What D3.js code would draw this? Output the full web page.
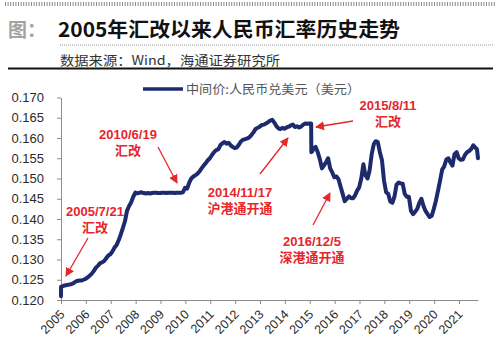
<!DOCTYPE html>
<html>
<head>
<meta charset="utf-8">
<script src="https://cdn.jsdelivr.net/npm/d3@7"></script>
<style>
  html, body { margin: 0; padding: 0; background: #fff; }
  svg { display: block; }
</style>
</head>
<body>
<svg id="chart" width="500" height="345"></svg>
<script>
// CNY/USD central parity expressed in US dollars per yuan, monthly readings
const dates = [
  "2005-07-20","2005-07-21","2005-08-15","2005-09-15","2005-10-15","2005-11-15","2005-12-15",
  "2006-01-15","2006-02-15","2006-03-15","2006-04-15","2006-05-15","2006-06-15","2006-07-15","2006-08-15","2006-09-15","2006-10-15","2006-11-15","2006-12-15",
  "2007-01-15","2007-02-15","2007-03-15","2007-04-15","2007-05-15","2007-06-15","2007-07-15","2007-08-15","2007-09-15","2007-10-15","2007-11-15","2007-12-15",
  "2008-01-15","2008-02-15","2008-03-15","2008-04-15","2008-05-15","2008-06-15","2008-07-15","2008-08-15","2008-09-15","2008-10-15","2008-11-15","2008-12-15",
  "2009-01-15","2009-02-15","2009-03-15","2009-04-15","2009-05-15","2009-06-15","2009-07-15","2009-08-15","2009-09-15","2009-10-15","2009-11-15","2009-12-15",
  "2010-01-15","2010-02-15","2010-03-15","2010-04-15","2010-05-15","2010-06-15","2010-07-15","2010-08-15","2010-09-15","2010-10-15","2010-11-15","2010-12-15",
  "2011-01-15","2011-02-15","2011-03-15","2011-04-15","2011-05-15","2011-06-15","2011-07-15","2011-08-15","2011-09-15","2011-10-15","2011-11-15","2011-12-15",
  "2012-01-15","2012-02-15","2012-03-15","2012-04-15","2012-05-15","2012-06-15","2012-07-15","2012-08-15","2012-09-15","2012-10-15","2012-11-15","2012-12-15",
  "2013-01-15","2013-02-15","2013-03-15","2013-04-15","2013-05-15","2013-06-15","2013-07-15","2013-08-15","2013-09-15","2013-10-15","2013-11-15","2013-12-15",
  "2014-01-15","2014-02-15","2014-03-15","2014-04-15","2014-05-15","2014-06-15","2014-07-15","2014-08-15","2014-09-15","2014-10-15","2014-11-15","2014-12-15",
  "2015-01-15","2015-02-15","2015-03-15","2015-04-15","2015-05-15","2015-06-15","2015-07-15","2015-08-10","2015-08-13","2015-08-25","2015-09-15","2015-10-15","2015-11-15","2015-12-15",
  "2016-01-15","2016-02-15","2016-03-15","2016-04-15","2016-05-15","2016-06-15","2016-07-15","2016-08-15","2016-09-15","2016-10-15","2016-11-15","2016-12-15",
  "2017-01-15","2017-02-15","2017-03-15","2017-04-15","2017-05-15","2017-06-15","2017-07-15","2017-08-15","2017-09-15","2017-10-15","2017-11-15","2017-12-15",
  "2018-01-15","2018-02-15","2018-03-15","2018-04-15","2018-05-15","2018-06-15","2018-07-15","2018-08-15","2018-09-15","2018-10-15","2018-11-15","2018-12-15",
  "2019-01-15","2019-02-15","2019-03-15","2019-04-15","2019-05-15","2019-06-15","2019-07-15","2019-08-15","2019-09-15","2019-10-15","2019-11-15","2019-12-15",
  "2020-01-15","2020-02-15","2020-03-15","2020-04-15","2020-05-15","2020-06-15","2020-07-15","2020-08-15","2020-09-15","2020-10-15","2020-11-15","2020-12-15",
  "2021-01-15","2021-02-15","2021-03-15","2021-04-15","2021-05-15","2021-06-15","2021-07-15","2021-08-15","2021-09-15","2021-10-15","2021-11-15","2021-12-15",
  "2022-01-15","2022-02-15","2022-03-15","2022-04-10","2022-04-25"
];
const rates = [
  0.1209,0.1233,0.1234,0.1236,0.1237,0.1238,0.1239,
  0.1241,0.1245,0.1247,0.1248,0.1248,0.1250,0.1252,0.1256,0.1260,0.1265,0.1272,0.1280,
  0.1285,0.1291,0.1293,0.1296,0.1303,0.1310,0.1313,0.1320,0.1330,0.1336,0.1348,0.1362,
  0.1378,0.1395,0.1420,0.1432,0.1441,0.1455,0.1465,0.1463,0.1465,0.1466,0.1464,0.1463,
  0.1464,0.1463,0.1464,0.1465,0.1465,0.1464,0.1464,0.1465,0.1465,0.1464,0.1465,0.1465,
  0.1465,0.1464,0.1465,0.1465,0.1465,0.1466,0.1477,0.1475,0.1490,0.1500,0.1505,0.1508,
  0.1512,0.1518,0.1525,0.1532,0.1538,0.1545,0.1550,0.1558,0.1565,0.1570,0.1572,0.1582,
  0.1587,0.1590,0.1586,0.1588,0.1582,0.1578,0.1575,0.1577,0.1584,0.1592,0.1596,0.1597,
  0.1599,0.1602,0.1607,0.1614,0.1622,0.1625,0.1628,0.1632,0.1633,0.1636,0.1639,0.1643,
  0.1645,0.1638,0.1630,0.1624,0.1622,0.1625,0.1623,0.1626,0.1628,0.1631,0.1633,0.1627,
  0.1629,0.1626,0.1628,0.1633,0.1636,0.1635,0.1636,0.1636,0.1565,0.1567,0.1575,0.1578,0.1565,0.1548,
  0.1525,0.1532,0.1540,0.1550,0.1525,0.1515,0.1503,0.1505,0.1498,0.1480,0.1462,0.1444,
  0.1450,0.1456,0.1452,0.1451,0.1458,0.1470,0.1478,0.1500,0.1535,0.1508,0.1500,0.1520,
  0.1560,0.1585,0.1592,0.1590,0.1565,0.1545,0.1495,0.1466,0.1462,0.1443,0.1440,0.1455,
  0.1485,0.1490,0.1488,0.1487,0.1462,0.1455,0.1455,0.1420,0.1412,0.1418,0.1425,0.1440,
  0.1450,0.1432,0.1420,0.1412,0.1405,0.1408,0.1425,0.1445,0.1470,0.1495,0.1522,0.1530,
  0.1547,0.1550,0.1540,0.1532,0.1560,0.1565,0.1550,0.1546,0.1547,0.1558,0.1565,0.1568,
  0.1573,0.1582,0.1577,0.1572,0.1550
];
const yearTicks = ["2005","2006","2007","2008","2009","2010","2011","2012","2013","2014","2015","2016","2017","2018","2019","2020","2021"];
const yTicks = [0.120,0.125,0.130,0.135,0.140,0.145,0.150,0.155,0.160,0.165,0.170];
const seriesName = "中间价:人民币兑美元（美元）";
const eventLabels = [
  ["2005/7/21", "汇改"],
  ["2010/6/19", "汇改"],
  ["2014/11/17", "沪港通开通"],
  ["2015/8/11", "汇改"],
  ["2016/12/5", "深港通开通"]
];

const parse = d3.timeParse("%Y-%m-%d");
const data = dates.map((d, i) => ({ date: parse(d), value: rates[i] }));

const svg = d3.select("#chart");
const NAVY = "#1d2b6d";
const RED = "#e5262b";
const LATIN = "'Liberation Sans', Arial, 'Noto Sans CJK SC', sans-serif";
const CJK = "'Noto Sans CJK SC', 'Liberation Sans', sans-serif";

// ---- header ----
svg.append("line").attr("x1", 5).attr("x2", 495).attr("y1", 4).attr("y2", 4)
  .attr("stroke", "#8a8a8a").attr("stroke-width", 4).attr("stroke-dasharray", "1,1.6");
svg.append("text").attr("x", 8).attr("y", 37)
  .attr("font-family", CJK).attr("font-weight", 700).attr("font-size", 19)
  .attr("fill", "#a3a3a3").text("图：");
svg.append("text").attr("x", 58).attr("y", 37)
  .attr("font-family", CJK).attr("font-weight", 700).attr("font-size", 20)
  .attr("fill", "#111").attr("textLength", 342).attr("lengthAdjust", "spacingAndGlyphs")
  .text("2005年汇改以来人民币汇率历史走势");
svg.append("line").attr("x1", 60).attr("x2", 493).attr("y1", 45).attr("y2", 45)
  .attr("stroke", "#9a9a9a").attr("stroke-width", 1).attr("stroke-dasharray", "1,1");
svg.append("text").attr("x", 60).attr("y", 64.5)
  .attr("font-family", CJK).attr("font-size", 13)
  .attr("fill", "#333").attr("textLength", 220).attr("lengthAdjust", "spacingAndGlyphs")
  .text("数据来源：Wind，海通证券研究所");
svg.append("line").attr("x1", 8).attr("x2", 493).attr("y1", 68.5).attr("y2", 68.5)
  .attr("stroke", "#111").attr("stroke-width", 2);

// ---- scales ----
const x = d3.scaleTime()
  .domain([parse("2005-07-20"), parse("2022-04-25")])
  .range([61, 478]);
const y = d3.scaleLinear().domain([0.12, 0.17]).range([300, 97.5]);

// ---- axes ----
const xTickDates = yearTicks.map(yr => parse(yr + "-07-20"));
const xAxis = svg.append("g").attr("transform", "translate(0,300)")
  .call(d3.axisBottom(x).tickValues(xTickDates).tickSize(4).tickSizeOuter(0).tickFormat(""));
xAxis.select(".domain").attr("stroke", "#8c8c8c");
xAxis.selectAll(".tick line").attr("stroke", "#8c8c8c");
xAxis.selectAll(".tick").append("text")
  .attr("transform", "translate(4,15) rotate(-45)")
  .attr("text-anchor", "end")
  .attr("font-family", LATIN).attr("font-size", 12.5).attr("fill", "#2b2b2b")
  .text((d, i) => yearTicks[i]);

const yAxis = svg.append("g").attr("transform", "translate(61,0)")
  .call(d3.axisLeft(y).tickValues(yTicks).tickSize(4).tickSizeOuter(0)
    .tickPadding(13).tickFormat(d3.format(".3f")));
yAxis.select(".domain").attr("stroke", "#8c8c8c");
yAxis.selectAll(".tick line").attr("stroke", "#8c8c8c");
yAxis.selectAll(".tick text")
  .attr("font-family", LATIN).attr("font-size", 13).attr("fill", "#2b2b2b");

// ---- series ----
const line = d3.line().x(d => x(d.date)).y(d => y(d.value));
svg.append("path").datum(data)
  .attr("d", line)
  .attr("fill", "none").attr("stroke", NAVY).attr("stroke-width", 4)
  .attr("stroke-linejoin", "round").attr("stroke-linecap", "round");

// ---- legend ----
svg.append("line").attr("x1", 143).attr("x2", 183).attr("y1", 89).attr("y2", 89)
  .attr("stroke", NAVY).attr("stroke-width", 3.5);
svg.append("text").attr("x", 186).attr("y", 93.5)
  .attr("font-family", CJK).attr("font-size", 12.5).attr("fill", "#555")
  .attr("textLength", 174).attr("lengthAdjust", "spacingAndGlyphs")
  .text(seriesName);

// ---- event annotations ----
const defs = svg.append("defs");
defs.append("marker").attr("id", "arrowhead")
  .attr("viewBox", "0 0 10 10").attr("refX", 9).attr("refY", 5)
  .attr("markerWidth", 9).attr("markerHeight", 9).attr("markerUnits", "userSpaceOnUse")
  .attr("orient", "auto")
  .append("path").attr("d", "M0,0 L10,5 L0,10 Z").attr("fill", RED);

// label centre, baseline and arrow (tail -> tip) for each event
const labelSpots = [
  { cx: 95,  base: 216, from: [88, 238],  to: [66, 276] },
  { cx: 128, base: 139, from: [158, 147], to: [177, 183] },
  { cx: 240, base: 197, from: [260, 174], to: [288, 138] },
  { cx: 388, base: 110, from: [353, 121], to: [316, 127] },
  { cx: 312, base: 246, from: [313, 225], to: [330, 193] }
];
eventLabels.forEach((lines, i) => {
  const s = labelSpots[i];
  svg.append("line")
    .attr("x1", s.from[0]).attr("y1", s.from[1]).attr("x2", s.to[0]).attr("y2", s.to[1])
    .attr("stroke", RED).attr("stroke-width", 1.3).attr("marker-end", "url(#arrowhead)");
  lines.forEach((txt, j) => {
    svg.append("text").attr("x", s.cx).attr("y", s.base + j * 16)
      .attr("text-anchor", "middle")
      .attr("font-family", LATIN).attr("font-weight", 700).attr("font-size", 13)
      .attr("fill", RED).text(txt);
  });
});
</script>
</body>
</html>
